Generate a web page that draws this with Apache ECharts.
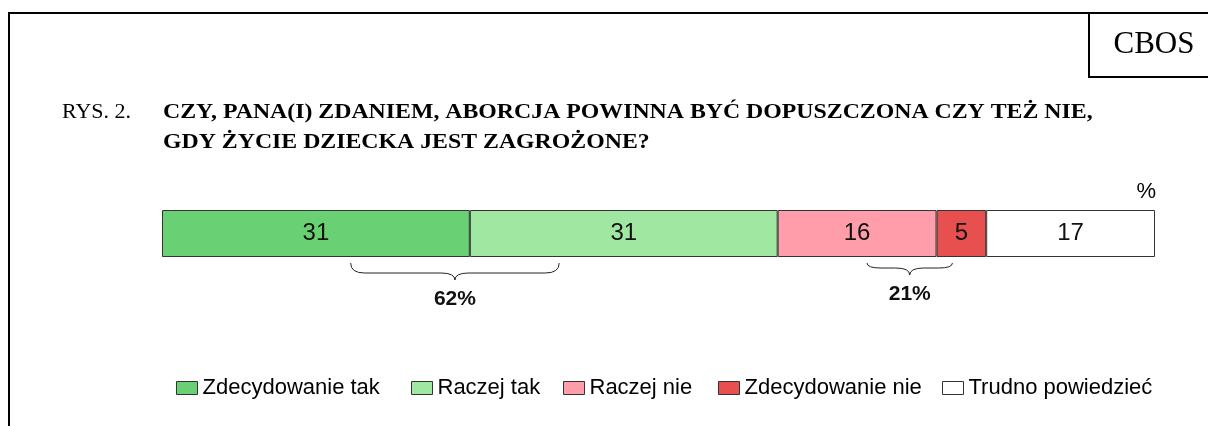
<!DOCTYPE html>
<html>
<head>
<meta charset="utf-8">
<script src="https://cdn.jsdelivr.net/npm/echarts@6/dist/echarts.min.js"></script>
<style>
  html, body { margin: 0; padding: 0; background: #fff; }
  #chart { width: 1208px; height: 426px; }
</style>
</head>
<body>
<div id="chart"></div>
<script>
// answers and their shares (%)
var categories = ['Zdecydowanie tak', 'Raczej tak', 'Raczej nie', 'Zdecydowanie nie', 'Trudno powiedzieć'];
var values = [31, 31, 16, 5, 17];
var colors = ['#69d173', '#a0e8a1', '#ff9daa', '#e85050', '#ffffff'];
// braces under the bar: from, to (in % units), label
var braceFrom = [19, 71];
var braceTo = [40, 79.6];
var braceLabels = ['62%', '21%'];
var legendLeft = [176, 411, 563, 718, 942];

var chart = echarts.init(document.getElementById('chart'));

var series = categories.map(function (name, i) {
  return {
    name: name,
    type: 'bar',
    stack: 'all',
    barWidth: '100%',
    data: [values[i]],
    itemStyle: { color: colors[i], borderColor: '#333', borderWidth: 1 },
    label: {
      show: true,
      position: 'inside',
      color: '#111',
      fontFamily: 'Liberation Sans',
      fontSize: 24
    },
    emphasis: { disabled: true }
  };
});

series.push({
  type: 'custom',
  name: 'braces',
  data: braceFrom.map(function (f, i) { return [f, braceTo[i], 0, braceLabels[i]]; }),
  encode: { x: [0, 1], y: 2 },
  silent: true,
  renderItem: function (params, api) {
    var p1 = api.coord([api.value(0), 0]);
    var p2 = api.coord([api.value(1), 0]);
    var half = api.size([0, 1])[1] / 2;
    var x1 = p1[0], x2 = p2[0], xc = (x1 + x2) / 2;
    var y0 = p1[1] + half + 6;
    var arm = Math.min(10, (x2 - x1) / 17);
    var ym = y0 + arm;
    var yt = ym + 7;
    var r = 14;
    var d = 'M' + x1 + ' ' + y0 +
      ' Q' + x1 + ' ' + ym + ' ' + (x1 + r) + ' ' + ym +
      ' L' + (xc - r) + ' ' + ym +
      ' Q' + xc + ' ' + ym + ' ' + xc + ' ' + yt +
      ' Q' + xc + ' ' + ym + ' ' + (xc + r) + ' ' + ym +
      ' L' + (x2 - r) + ' ' + ym +
      ' Q' + x2 + ' ' + ym + ' ' + x2 + ' ' + y0;
    return {
      type: 'group',
      children: [
        { type: 'path', shape: { pathData: d }, style: { fill: null, stroke: '#222', lineWidth: 1 } },
        {
          type: 'text',
          x: xc, y: yt + 19,
          style: {
            text: api.value(3), fill: '#111', fontFamily: 'Liberation Sans',
            fontWeight: 'bold', fontSize: 21, align: 'center', verticalAlign: 'middle'
          }
        }
      ]
    };
  }
});

var legends = categories.map(function (name, i) {
  return {
    data: [name],
    left: legendLeft[i],
    top: 377,
    padding: 0,
    itemWidth: 21,
    itemHeight: 13,
    icon: 'rect',
    selectedMode: false,
    itemStyle: { borderColor: '#333', borderWidth: 1 },
    textStyle: { fontFamily: 'Liberation Sans', fontSize: 22, color: '#000' }
  };
});

var serif = 'Liberation Serif';
var option = {
  animation: false,
  legend: legends,
  grid: { left: 162, right: 53, top: 210, height: 47 },
  xAxis: { type: 'value', min: 0, max: 100, show: false },
  yAxis: { type: 'category', data: [''], show: false },
  graphic: [
    { type: 'line', shape: { x1: 9, y1: 13, x2: 1208, y2: 13 }, style: { stroke: '#000', lineWidth: 2 } },
    { type: 'line', shape: { x1: 9, y1: 12, x2: 9, y2: 426 }, style: { stroke: '#000', lineWidth: 2 } },
    { type: 'line', shape: { x1: 1089, y1: 13, x2: 1089, y2: 77 }, style: { stroke: '#000', lineWidth: 2 } },
    { type: 'line', shape: { x1: 1088, y1: 77, x2: 1208, y2: 77 }, style: { stroke: '#000', lineWidth: 2 } },
    { type: 'text', x: 1154, y: 45, style: { text: 'CBOS', fontFamily: serif, fontSize: 31, fill: '#000', align: 'center', verticalAlign: 'middle' } },
    { type: 'text', x: 62, y: 113, scaleX: 1.1, style: { text: 'RYS. 2.', fontFamily: serif, fontSize: 20, fill: '#000', verticalAlign: 'middle' } },
    { type: 'text', x: 163, y: 113, scaleX: 1.19, style: { text: 'CZY, PANA(I) ZDANIEM, ABORCJA POWINNA BYĆ DOPUSZCZONA CZY TEŻ NIE,', fontFamily: serif, fontWeight: 'bold', fontSize: 20, fill: '#000', verticalAlign: 'middle' } },
    { type: 'text', x: 163, y: 143, scaleX: 1.19, style: { text: 'GDY ŻYCIE DZIECKA JEST ZAGROŻONE?', fontFamily: serif, fontWeight: 'bold', fontSize: 20, fill: '#000', verticalAlign: 'middle' } },
    { type: 'text', x: 1156, y: 192, style: { text: '%', fontFamily: 'Liberation Sans', fontSize: 22, fill: '#000', align: 'right', verticalAlign: 'middle' } }
  ],
  series: series
};

chart.setOption(option);
</script>
</body>
</html>
